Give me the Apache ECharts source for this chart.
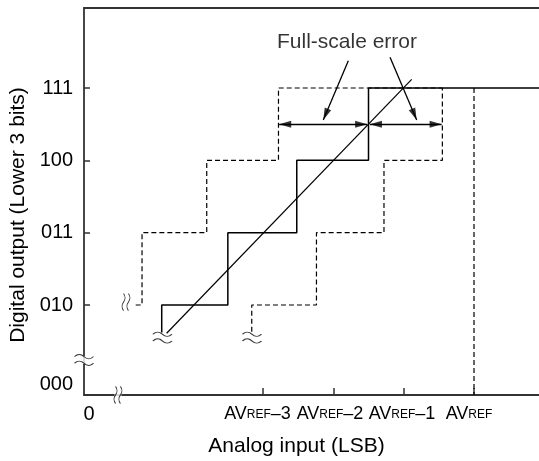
<!DOCTYPE html>
<html>
<head>
<meta charset="utf-8">
<script src="https://cdn.jsdelivr.net/npm/echarts@6/dist/echarts.min.js"></script>
<style>
  html, body { margin: 0; padding: 0; background: #fff; }
  #chart { width: 539px; height: 461px; }
</style>
</head>
<body>
<div id="chart"></div>
<script>
// x in LSB relative to AVREF, y in output steps (010 = 2 ... 111 = 5)
const xMin = -5.545
const xMax = 0.924
const yMin = 0.756
const yMax = 6.106

const xTickPos = [-3, -2, -1, 0]
const xLabelPos = [-5.474, -3.078, -2.047, -1.024, -0.071]
const xLabelText = ['0', 'AVREF–3', 'AVREF–2', 'AVREF–1', 'AVREF']
const yTickPos = [2, 3, 4, 5]
const yLabelPos = [0.908, 2, 3, 4, 5]
const yLabelText = ['000', '010', '011', '100', '111']

const idealStep = [[-4.44, 1.62], [-4.44, 2], [-3.5, 2], [-3.5, 3], [-2.52, 3], [-2.52, 4], [-1.5, 4], [-1.5, 5], [xMax, 5]]
const idealLine = [[-4.37, 1.61], [-0.886, 5.12]]
const leftStep = [[-4.81, 2], [-4.72, 2], [-4.72, 3], [-3.8, 3], [-3.8, 4], [-2.78, 4], [-2.78, 5], [-0.45, 5]]
const rightStep = [[-3.16, 1.63], [-3.16, 2], [-2.24, 2], [-2.24, 3], [-1.28, 3], [-1.28, 4], [-0.45, 4], [-0.45, 5]]
const avrefLine = [[0, 5], [0, yMin]]

// double headed arrows and the two pointers from the note
const spanArrows = [[[-2.77, 4.5], [-1.52, 4.5]], [[-1.48, 4.5], [-0.46, 4.5]]]
const pointerArrows = [[[-1.787, 5.378], [-2.143, 4.558]], [[-1.194, 5.425], [-0.815, 4.558]]]
const noteText = 'Full-scale error'
const notePos = [-1.806, 5.636]

const waveBreaks = [[-4.43, 1.55], [-3.157, 1.55]]
const sideBreaks = [[-4.948, 2.04]]
const yAxisBreak = [[xMin, 1.24]]
const xAxisBreak = [[-5.062, yMin]]

const font = "'Liberation Sans', Arial, sans-serif"
const wave = 'path://M0,3 C3,0 6,0 9,3 C12,6 15,6 18,3 M0,10 C3,7 6,7 9,10 C12,13 15,13 18,10'
const axisColor = '#333'
const headLen = 12

function stepSeries(name, data, dashed) {
  return {
    id: name,
    name: name,
    type: 'line',
    data: data,
    showSymbol: false,
    symbol: 'none',
    silent: true,
    clip: false,
    lineStyle: {
      color: '#000',
      width: dashed ? 1.2 : 1.5,
      type: dashed ? [5, 3] : 'solid',
    },
    z: 3,
  }
}

const chart = echarts.init(document.getElementById('chart'), null, { renderer: 'canvas' })

const diag = stepSeries('line', idealLine, false)
diag.lineStyle.width = 1.2
diag.markLine = {
  silent: true,
  symbol: ['none', 'none'],
  label: { show: false },
  emphasis: { disabled: true },
  lineStyle: { color: '#000', width: 1.3, type: 'solid' },
  data: spanArrows.concat(pointerArrows).map((p) => [{ coord: p[0] }, { coord: p[1] }]),
}

const option = {
  animation: false,
  backgroundColor: '#fff',
  textStyle: { fontFamily: font },
  grid: {
    left: 84,
    right: 0,
    top: 8,
    bottom: 66,
    containLabel: false,
    outerBoundsMode: 'none',
  },
  xAxis: [
    {
      type: 'value',
      min: xMin,
      max: xMax,
      position: 'bottom',
      splitLine: { show: false },
      axisLine: { show: true, onZero: false, lineStyle: { color: axisColor, width: 1.8 } },
      axisTick: {
        show: true,
        inside: true,
        length: 7,
        customValues: xTickPos,
        lineStyle: { color: axisColor, width: 1.5 },
      },
      axisLabel: {
        show: true,
        margin: 8,
        color: '#000',
        fontFamily: font,
        fontSize: 19,
        customValues: xLabelPos,
        formatter: (v) => {
          const t = xLabelText[xLabelPos.indexOf(v)] || ''
          if (t.indexOf('AVREF') === 0) {
            const rest = t.slice(5)
            return '{a|AV}{b|REF}' + (rest ? '{a|' + rest + '}' : '')
          }
          return '{z|' + t + '}'
        },
        rich: {
          a: { fontSize: 18, lineHeight: 20, fontFamily: font, color: '#000', verticalAlign: 'bottom' },
          b: { fontSize: 12, lineHeight: 14, fontFamily: font, color: '#000', verticalAlign: 'bottom', padding: [0, 0, 2, 0] },
          z: { fontSize: 20, lineHeight: 22, fontFamily: font, color: '#000' },
        },
      },
      name: 'Analog input (LSB)',
      nameLocation: 'middle',
      nameGap: 41,
      nameTextStyle: { fontSize: 21, color: '#000', fontFamily: font, padding: [0, 30, 0, 0] },
    },
    {
      type: 'value',
      min: xMin,
      max: xMax,
      position: 'top',
      splitLine: { show: false },
      axisLine: { show: true, onZero: false, lineStyle: { color: axisColor, width: 1.8 } },
      axisTick: { show: false },
      axisLabel: { show: false },
    },
  ],
  yAxis: {
    type: 'value',
    min: yMin,
    max: yMax,
    splitLine: { show: false },
    axisLine: { show: true, onZero: false, lineStyle: { color: axisColor, width: 1.8 } },
    axisTick: {
      show: true,
      inside: true,
      length: 6,
      customValues: yTickPos,
      lineStyle: { color: axisColor, width: 1.5 },
    },
    axisLabel: {
      show: true,
      margin: 11,
      color: '#000',
      fontFamily: font,
      fontSize: 20,
      customValues: yLabelPos,
      formatter: (v) => yLabelText[yLabelPos.indexOf(v)] || '',
    },
    name: 'Digital output (Lower 3 bits)',
    nameLocation: 'middle',
    nameGap: 49,
    nameTextStyle: { fontSize: 21, color: '#000', fontFamily: font, padding: [0, 27, 0, 0] },
  },
  series: [
    stepSeries('avref', avrefLine, true),
    stepSeries('left', leftStep, true),
    stepSeries('right', rightStep, true),
    stepSeries('ideal', idealStep, false),
    diag,
    {
      id: 'axisGapY',
      type: 'scatter',
      silent: true,
      clip: false,
      data: yAxisBreak,
      symbol: 'rect',
      symbolSize: [22, 8],
      itemStyle: { color: '#fff' },
      z: 4,
    },
    {
      id: 'axisGapX',
      type: 'scatter',
      silent: true,
      clip: false,
      data: xAxisBreak,
      symbol: 'rect',
      symbolSize: [7, 20],
      itemStyle: { color: '#fff' },
      z: 4,
    },
    {
      id: 'waves',
      type: 'scatter',
      silent: true,
      clip: false,
      data: waveBreaks.concat(yAxisBreak),
      symbol: wave,
      symbolSize: [19, 11],
      itemStyle: { color: 'none', borderColor: '#000', borderWidth: 1.1 },
      z: 5,
    },
    {
      id: 'sideWaves',
      type: 'scatter',
      silent: true,
      clip: false,
      data: sideBreaks.concat(xAxisBreak),
      symbol: wave,
      symbolSize: [17, 8],
      symbolRotate: 90,
      itemStyle: { color: 'none', borderColor: '#000', borderWidth: 1.1 },
      z: 5,
    },
    {
      id: 'note',
      type: 'scatter',
      silent: true,
      clip: false,
      data: [notePos],
      symbolSize: 0,
      itemStyle: { color: '#000' },
      label: {
        show: true,
        position: 'inside',
        formatter: noteText,
        fontSize: 21,
        color: '#000',
        textBorderWidth: 0,
        fontFamily: font,
      },
      z: 5,
    },
    {
      id: 'heads',
      type: 'scatter',
      silent: true,
      clip: false,
      data: [],
      symbol: 'triangle',
      symbolSize: [7, headLen],
      itemStyle: { color: '#000' },
      z: 6,
    },
  ],
}

chart.setOption(option)

// arrow heads: triangles at the tips, turned along each shaft on screen
const heads = []
function addHead(from, to) {
  const a = chart.convertToPixel({ seriesIndex: 0 }, from)
  const b = chart.convertToPixel({ seriesIndex: 0 }, to)
  const dx = b[0] - a[0]
  const dy = b[1] - a[1]
  const len = Math.sqrt(dx * dx + dy * dy)
  const ang = Math.atan2(-dy, dx) * 180 / Math.PI - 90
  heads.push({
    value: to,
    symbolRotate: ang,
    symbolOffset: [-dx / len * headLen / 2, -dy / len * headLen / 2],
  })
}
spanArrows.forEach((p) => {
  addHead(p[1], p[0])
  addHead(p[0], p[1])
})
pointerArrows.forEach((p) => addHead(p[0], p[1]))

chart.setOption({ series: [{ id: 'heads', data: heads }] })
</script>
</body>
</html>
